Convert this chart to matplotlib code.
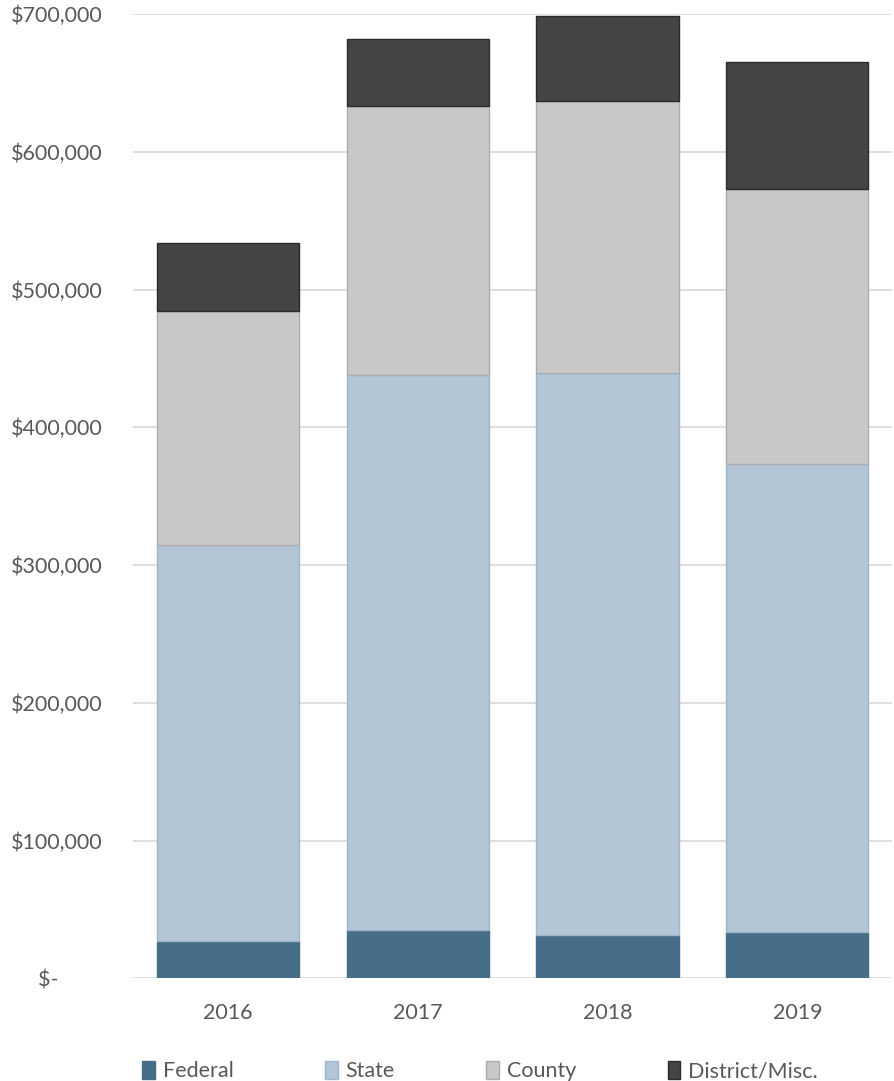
import numpy as np
import matplotlib.pyplot as plt
from matplotlib.ticker import FuncFormatter

plt.rcParams['font.family'] = ['Lato', 'DejaVu Sans']

years = ['2016', '2017', '2018', '2019']
federal = [27300, 34900, 31200, 33400]
state = [287400, 403000, 407900, 340100]
county = [170000, 195600, 198000, 199500]
district = [49400, 48100, 61200, 92000]

series = [
    ('Federal', federal, '#466e87', '#466e87'),
    ('State', state, '#b4c6d6', '#9db6cc'),
    ('County', county, '#c8c8c8', '#adadad'),
    ('District/Misc.', district, '#444444', '#2b2b2b'),
]

fig = plt.figure(figsize=(8.94, 10.81), dpi=100)
ax = fig.add_axes([0.149, 0.095, 0.849, 0.892])

x = np.arange(len(years))
bottom = np.zeros(len(years))
for name, vals, color, edge in series:
    ax.bar(x, vals, width=0.75, bottom=bottom, color=color, edgecolor=edge,
           linewidth=1, label=name, zorder=3)
    bottom += np.array(vals)

ax.set_xlim(-0.5, 3.5)
ax.set_ylim(0, 700000)
ax.set_yticks(np.arange(0, 700001, 100000))


def money(v, pos):
    if v == 0:
        return '$-' + ' ' * 8
    return '${:,.0f}'.format(v)


ax.yaxis.set_major_formatter(FuncFormatter(money))
ax.set_xticks(x)
ax.set_xticklabels(years)
ax.tick_params(axis='both', length=0, labelsize=15.5, colors='#595959')
ax.tick_params(axis='y', pad=22)
ax.tick_params(axis='x', pad=18)
ax.grid(axis='y', color='#d9d9d9', linewidth=1.2, zorder=0)
for s in ax.spines.values():
    s.set_visible(False)

leg = fig.legend(loc='lower center', bbox_to_anchor=(0.537, -0.018), ncol=4,
                 frameon=False, fontsize=15.5, handlelength=0.6,
                 handleheight=0.9, handletextpad=0.35, columnspacing=4.25)
for t in leg.get_texts():
    t.set_color('#595959')

fig.savefig('out.png', dpi=100)
